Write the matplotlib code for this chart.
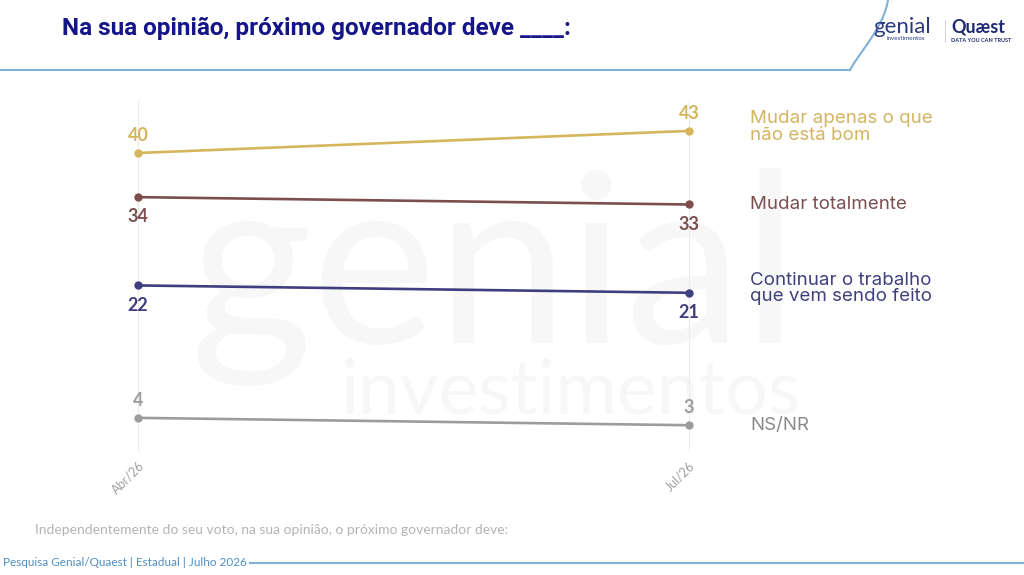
import matplotlib.pyplot as plt
import numpy as np

# survey waves and series
periods = ["Abr/26", "Jul/26"]
mudar_apenas = [40, 43]
mudar_total = [34, 33]
continuar = [22, 21]
ns_nr = [4, 3]

series_names = ["Mudar apenas o que\nnão está bom", "Mudar totalmente",
                "Continuar o trabalho\nque vem sendo feito", "NS/NR"]
series_vals = [mudar_apenas, mudar_total, continuar, ns_nr]
colors = ["#D6B65C", "#7D4E4E", "#3F3F80", "#9C9C9C"]
label_colors = ["#D4B461", "#7A5050", "#40407E", "#8A8A8A"]
label_side = ["above", "below", "below", "above"]

plt.rcParams['font.family'] = ['Lato', 'DejaVu Sans']

fig = plt.figure(figsize=(10.24, 5.75), dpi=100)
fig.patch.set_facecolor("white")

# watermark
fig.text(0.483, 0.518, "genial", fontsize=170, color="#F7F7F7", ha="center",
         va="center", zorder=-5)
fig.text(0.557, 0.318, "investimentos", fontsize=54, color="#F7F7F7", ha="center",
         va="center", zorder=-5)

ax = fig.add_axes([137 / 1024, 0.2157, 553 / 1024, 0.6078])
ax.set_facecolor("none")
x = np.arange(len(periods))
ax.set_xlim(-0.002, 1.002)
ax.set_ylim(-0.5, 47)

for name, vals, c, lc, side in zip(series_names, series_vals, colors, label_colors, label_side):
    ax.plot(x, vals, color=c, lw=1.9, marker="o", ms=5, clip_on=False, zorder=3)
    for xi, v in zip(x, vals):
        dy = 6.5 if side == "above" else -8
        ax.annotate(str(v), (xi, v), xytext=(0, dy), textcoords="offset points",
                    ha="center", va="bottom" if side == "above" else "top",
                    fontsize=13, fontweight="bold", color=c)
    shift = 3 if "\n" in name else 0
    ax.annotate(name, (1, vals[-1]), xytext=(44, shift), textcoords="offset points",
                ha="left", va="center", fontsize=13.5, color=lc, linespacing=0.98,
                annotation_clip=False, family=["Inter", "DejaVu Sans"])

ax.set_xticks(x)
ax.set_xticklabels(periods, rotation=45, ha="right", rotation_mode="anchor",
                   fontsize=9, color="#A0A0A0")
ax.tick_params(axis="x", length=0, pad=6)
ax.set_yticks([])
ax.grid(axis="x", color="#EBEBEB", lw=0.8)
for s in ax.spines.values():
    s.set_visible(False)

# header
fig.text(62 / 1024, 1 - 28 / 575, "Na sua opinião, próximo governador deve ____:",
         fontsize=17.5, fontweight="bold", color="#15158A", va="center",
         family=["Roboto", "DejaVu Sans"])
fig.add_artist(plt.Line2D([0, 850 / 1024], [1 - 70 / 575, 1 - 70 / 575],
                          color="#7FB0D8", lw=1.5, transform=fig.transFigure))
t = np.linspace(0, 1, 50)
cx = (850 + 28 * np.sin(t * np.pi / 2) + 10 * t) / 1024
cy = 1 - (70 - 70 * t ** 0.9) / 575
fig.add_artist(plt.Line2D(cx, cy, color="#7FB0D8", lw=1.5, transform=fig.transFigure))

fig.text(873 / 1024, 1 - 27 / 575, "genial", fontsize=16, color="#2A3B80",
         va="center", ha="left")
fig.text(887 / 1024, 1 - 39 / 575, "investimentos", fontsize=4.5, color="#2A3B80",
         va="center", ha="left")
fig.add_artist(plt.Line2D([945 / 1024, 945 / 1024], [1 - 20 / 575, 1 - 42 / 575],
                          color="#C8C8D0", lw=0.6, transform=fig.transFigure))
fig.text(951 / 1024, 1 - 27 / 575, "Quæst", fontsize=13, color="#1F2A70",
         va="center", ha="left", fontweight="bold")
fig.text(951 / 1024, 1 - 40 / 575, "DATA YOU CAN TRUST", fontsize=4, color="#1F2A70",
         va="center", ha="left", fontweight="bold")

# footer
fig.text(35 / 1024, 1 - 530 / 575,
         "Independentemente do seu voto, na sua opinião, o próximo governador deve:",
         fontsize=10, color="#B4B4B4", va="center")
fig.text(3 / 1024, 1 - 563 / 575, "Pesquisa Genial/Quaest | Estadual | Julho 2026",
         fontsize=8.5, color="#4F8FC4", va="center")
fig.add_artist(plt.Line2D([250 / 1024, 1], [1 - 563 / 575, 1 - 563 / 575],
                          color="#7FB0D8", lw=1.5, transform=fig.transFigure))

fig.savefig("out.png", dpi=100, facecolor="white")
